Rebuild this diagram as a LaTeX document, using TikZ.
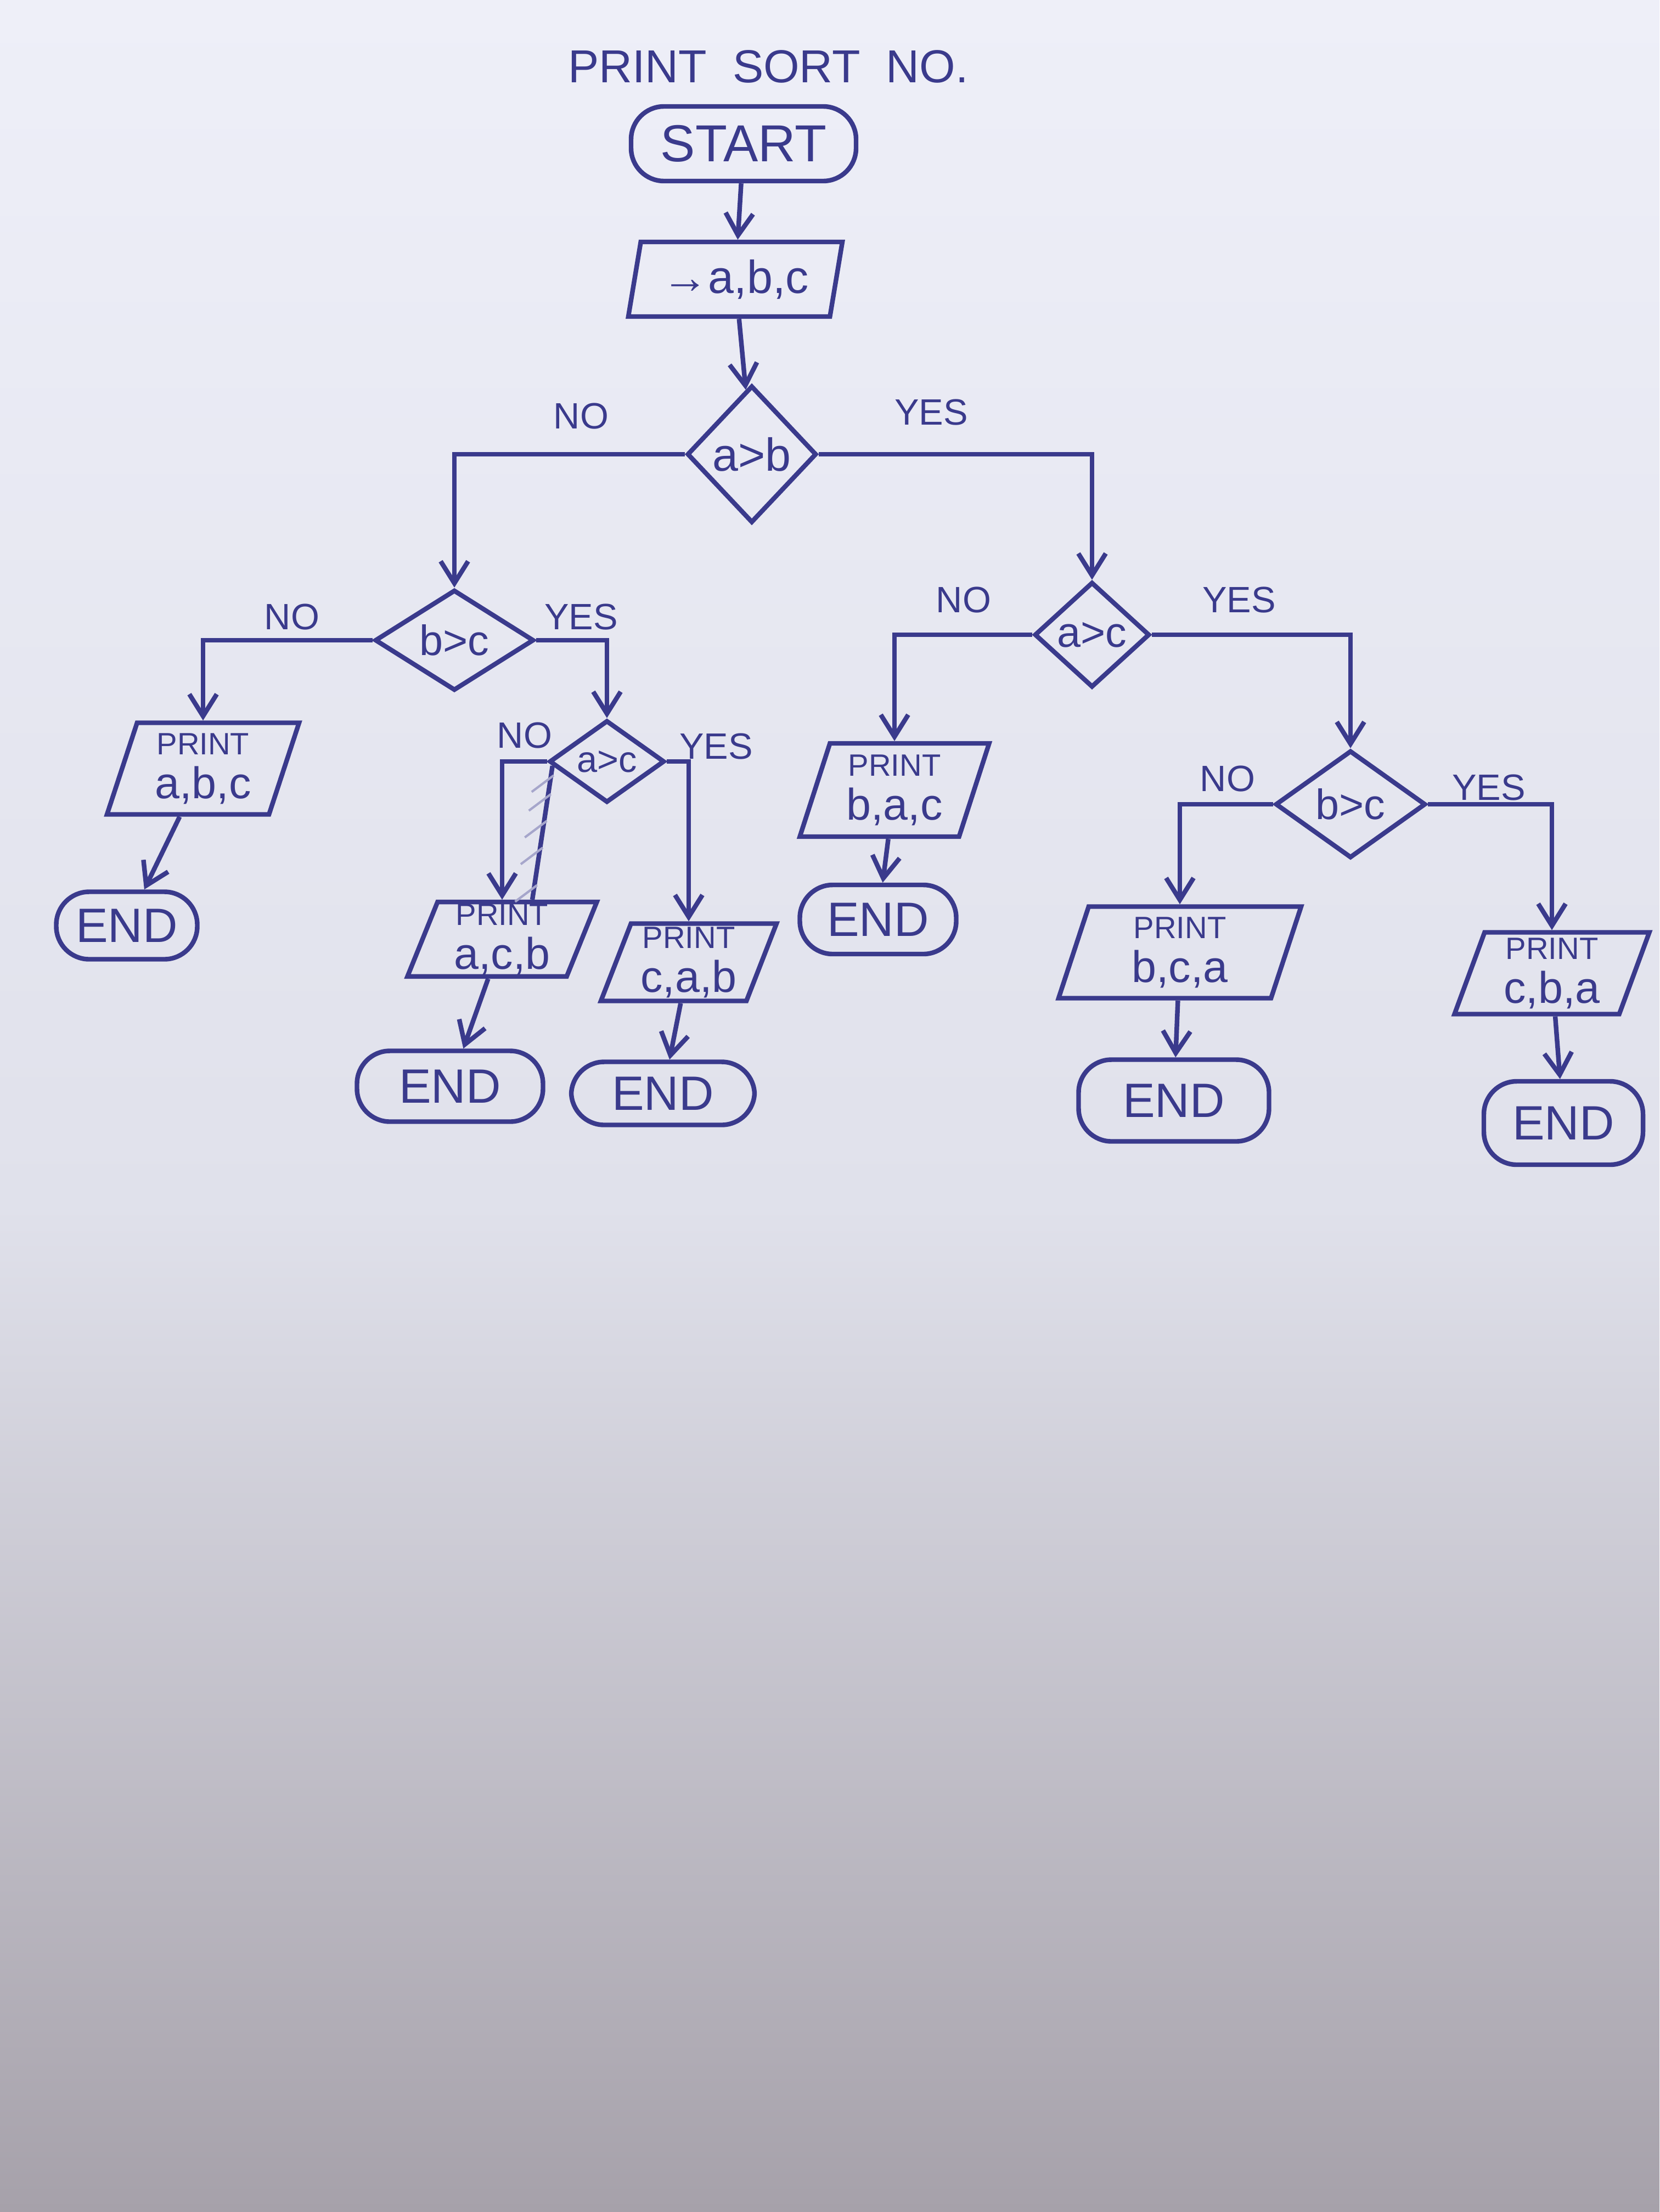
\documentclass[tikz,border=0pt]{standalone}
\usepackage{fontspec}
\setmainfont{Liberation Sans}
\usetikzlibrary{shapes.geometric,arrows.meta,calc,positioning}
\definecolor{ink}{RGB}{58,58,140}
\definecolor{paper}{RGB}{238,239,248}
\definecolor{papermid}{RGB}{224,225,235}
\definecolor{shadow}{RGB}{166,161,170}
\tikzset{%
  flow/.style={draw=ink, line width=2.4pt, text=ink},% every box
  terminal/.style={flow, rectangle, rounded corners=0.6cm, font=\fontsize{25}{28}\selectfont},% start / end
  io/.style={flow, trapezium, trapezium left angle=68, trapezium right angle=112,
    trapezium stretches body, align=center, inner sep=1pt},% input / print
  decision/.style={flow, diamond, inner sep=0pt, font=\fontsize{22}{24}\selectfont},% comparisons
  branch/.style={text=ink, font=\fontsize{19}{22}\selectfont},% NO / YES
  line/.style={draw=ink, line width=2.4pt, -{Straight Barb[length=4mm,width=5mm,line width=2.4pt]}},% connector
  hatch/.style={draw=ink!45, line width=1.2pt}% crossed-out stroke
}
\newcommand*{\printout}[1]{{\fontsize{16}{18}\selectfont PRINT}\\[5pt]{\fontsize{23}{25}\selectfont #1}}

\begin{document}
\begin{tikzpicture}
\useasboundingbox (0,0) rectangle (30.24,-40.32);
\shade[top color=paper, bottom color=papermid] (0,0) rectangle (30.24,-22);
\shade[top color=papermid, bottom color=shadow] (0,-22) rectangle (30.24,-40.32);

\node[text=ink, font=\fontsize{24}{28}\selectfont] (title) at (14.0,-1.21) {PRINT\ \ SORT\ \ NO.};

% start and input
\node[terminal, minimum width=4.1cm, minimum height=1.36cm, font=\fontsize{27}{30}\selectfont] (start) at (13.55,-2.62) {START};
\node[io, trapezium left angle=74, trapezium right angle=106, minimum width=3.9cm, minimum height=1.36cm,
  font=\fontsize{24}{26}\selectfont] (input) at (13.40,-5.09) {→a,b,c};

% decisions
\node[decision, font=\fontsize{24}{26}\selectfont, minimum width=2.36cm, minimum height=2.5cm] (d1) at (13.70,-8.28) {a>b};
\node[decision, minimum width=2.9cm, minimum height=1.76cm] (d2) at (8.28,-11.67) {b>c};
\node[decision, font=\fontsize{19}{21}\selectfont, minimum width=2.1cm, minimum height=1.5cm] (d3) at (11.06,-13.88) {a>c};
\node[decision, minimum width=2.1cm, minimum height=1.92cm] (d4) at (19.90,-11.57) {a>c};
\node[decision, minimum width=2.74cm, minimum height=1.96cm] (d5) at (24.61,-14.66) {b>c};

% outputs
\node[io, minimum width=3.5cm, minimum height=1.67cm] (p1) at (3.7,-14.01) {\printout{a,b,c}};
\node[io, minimum width=3.45cm, minimum height=1.34cm] (p2) at (9.15,-17.12) {\printout{a,c,b}};
\node[io, minimum width=3.2cm, minimum height=1.41cm] (p3) at (12.55,-17.54) {\printout{c,a,b}};
\node[io, minimum width=3.45cm, minimum height=1.70cm] (p4) at (16.3,-14.40) {\printout{b,a,c}};
\node[io, minimum width=4.42cm, minimum height=1.67cm] (p5) at (21.5,-17.36) {\printout{b,c,a}};
\node[io, minimum width=3.55cm, minimum height=1.49cm] (p6) at (28.28,-17.74) {\printout{c,b,a}};

% ends
\node[terminal, minimum width=2.57cm, minimum height=1.23cm] (e1) at (2.31,-16.87) {END};
\node[terminal, minimum width=3.39cm, minimum height=1.29cm] (e2) at (8.20,-19.80) {END};
\node[terminal, minimum width=3.34cm, minimum height=1.15cm] (e3) at (12.08,-19.93) {END};
\node[terminal, minimum width=2.85cm, minimum height=1.26cm] (e4) at (16.00,-16.76) {END};
\node[terminal, minimum width=3.47cm, minimum height=1.49cm] (e5) at (21.39,-20.06) {END};
\node[terminal, minimum width=2.9cm, minimum height=1.52cm] (e6) at (28.49,-20.47) {END};

% branch labels
\node[branch] (no1) at (10.59,-7.59) {NO};
\node[branch] (yes1) at (16.97,-7.51) {YES};
\node[branch] (no2) at (5.32,-11.24) {NO};
\node[branch] (yes2) at (10.59,-11.24) {YES};
\node[branch] (no3) at (9.56,-13.40) {NO};
\node[branch] (yes3) at (13.05,-13.60) {YES};
\node[branch] (no4) at (17.56,-10.93) {NO};
\node[branch] (yes4) at (22.58,-10.93) {YES};
\node[branch] (no5) at (22.37,-14.19) {NO};
\node[branch] (yes5) at (27.13,-14.35) {YES};

% connectors
\draw[line] (start) -- (input);
\draw[line] (input) -- (d1);
\draw[line] (d1.west) -| (d2.north);
\draw[line] (d1.east) -| (d4.north);
\draw[line] (d2.west) -| (p1.north);
\draw[line] (d2.east) -| (d3.north);
\draw[line] (d3.west) -| (p2.north);
\draw[line] (d3.east) -| (p3.north);
\draw[line] (d4.west) -| (p4.north);
\draw[line] (d4.east) -| (d5.north);
\draw[line] (d5.west) -| (p5.north);
\draw[line] (d5.east) -| (p6.north);
\draw[line] (p1) -- (e1);
\draw[line] (p2) -- (e2);
\draw[line] (p3) -- (e3);
\draw[line] (p4) -- (e4);
\draw[line] (p5) -- (e5);
\draw[line] (p6) -- (e6);

% second stroke beside the NO branch of d3
\coordinate (s1) at ([shift={(0.1,-0.08)}]d3.west);
\coordinate (s2) at ([xshift=0.55cm]p2.north);
\draw[draw=ink, line width=2.4pt] (s1) -- (s2);
\foreach \t in {0.08,0.22,0.42,0.62,0.9}
  \draw[hatch] ($(s1)!\t!(s2)+(-0.35,-0.28)$) -- ++(0.4,0.3);
\end{tikzpicture}
\end{document}
